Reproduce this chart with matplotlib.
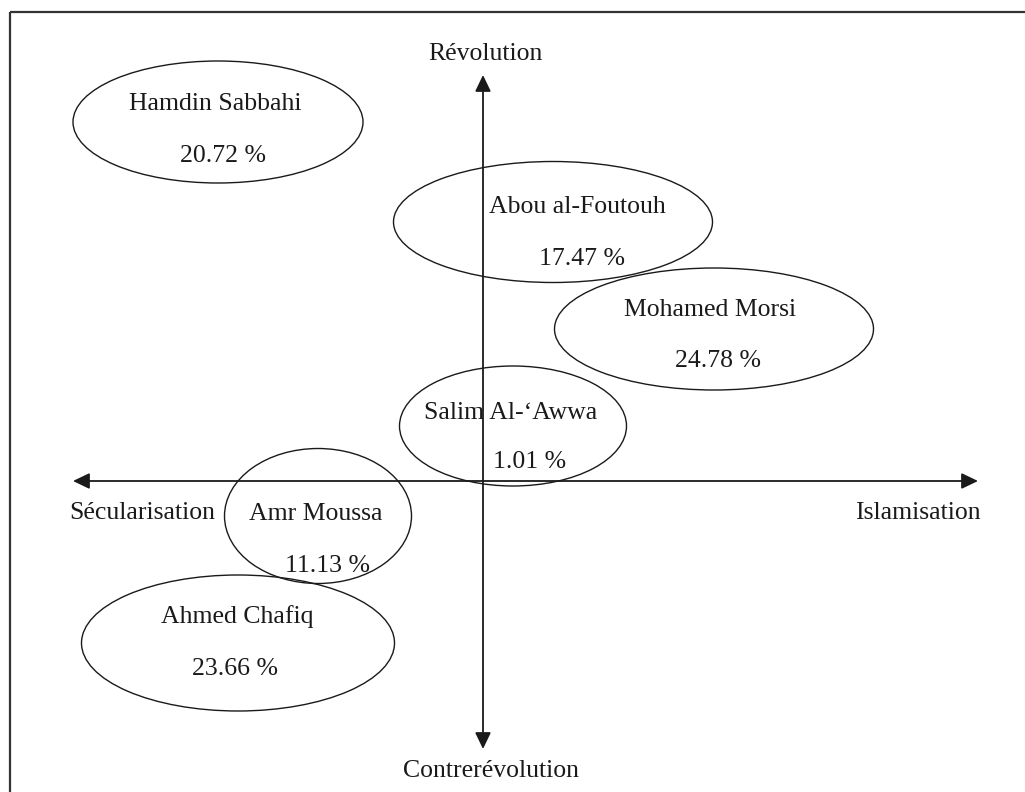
import matplotlib
matplotlib.use("Agg")
import matplotlib.pyplot as plt
from matplotlib.patches import Ellipse, FancyArrowPatch

plt.rcParams["font.family"] = ["Liberation Serif", "DejaVu Serif"]

# candidates, placed on a secularisation/islamisation (x) and
# revolution/counter-revolution (y) plane, origin where the axes cross
candidates = ["Hamdin Sabbahi", "Abou al-Foutouh", "Mohamed Morsi",
              "Salim Al-\u2018Awwa", "Amr Moussa", "Ahmed Chafiq"]
scores = ["20.72", "17.47", "24.78", "1.01", "11.13", "23.66"]

center_x = [-2.65, 0.70, 2.31, 0.30, -1.65, -2.45]
center_y = [3.59, 2.59, 1.52, 0.55, -0.35, -1.62]
spread_x = [2.90, 3.19, 3.19, 2.27, 1.87, 3.13]
spread_y = [1.22, 1.21, 1.22, 1.20, 1.35, 1.36]

name_x = [-2.68, 0.94, 2.27, 0.28, -1.67, -2.46]
name_y = [3.71, 2.68, 1.65, 0.62, -0.39, -1.42]
score_x = [-2.60, 0.99, 2.35, 0.47, -1.56, -2.48]
score_y = [3.19, 2.16, 1.14, 0.13, -0.91, -1.94]

axis_labels = ["S\u00e9cularisation", "Islamisation", "R\u00e9volution", "Contrer\u00e9volution"]

fig = plt.figure(figsize=(10.25, 7.92), dpi=100)
ax = fig.add_axes([0, 0, 1, 1])
ax.set_xlim(-4.83, 5.42)
ax.set_ylim(-3.11, 4.81)
ax.axis("off")

ink = "#1a1a1a"
fs = 18.5

# frame (only top and left edges are visible in the crop)
ax.plot([-4.73, 5.42], [4.695, 4.695], color="#333333", lw=1.6, solid_capstyle="butt")
ax.plot([-4.73, -4.73], [4.695, -3.11], color="#333333", lw=1.6, solid_capstyle="butt")

# axes with arrowheads at both ends
for start, end in [((-4.10, 0), (4.95, 0)), ((0, 4.06), (0, -2.68))]:
    ax.add_patch(FancyArrowPatch(start, end,
                                 arrowstyle="<|-|>,head_length=0.5,head_width=0.24",
                                 mutation_scale=20, color=ink, lw=1.3,
                                 shrinkA=0, shrinkB=0))

ax.text(-3.41, -0.38, axis_labels[0], ha="center", va="baseline", fontsize=fs, color=ink)
ax.text(4.35, -0.38, axis_labels[1], ha="center", va="baseline", fontsize=fs, color=ink)
ax.text(0.02, 4.21, axis_labels[2], ha="center", va="baseline", fontsize=fs, color=ink)
ax.text(0.08, -2.96, axis_labels[3], ha="center", va="baseline", fontsize=fs, color=ink)

for i, name in enumerate(candidates):
    ax.add_patch(Ellipse((center_x[i], center_y[i]), spread_x[i], spread_y[i],
                         fill=False, edgecolor=ink, lw=1.0))
    ax.text(name_x[i], name_y[i], name, ha="center", va="baseline", fontsize=fs, color=ink)
    ax.text(score_x[i], score_y[i], f"{scores[i]} %", ha="center", va="baseline",
            fontsize=fs, color=ink)

fig.savefig("out.png", dpi=100)
